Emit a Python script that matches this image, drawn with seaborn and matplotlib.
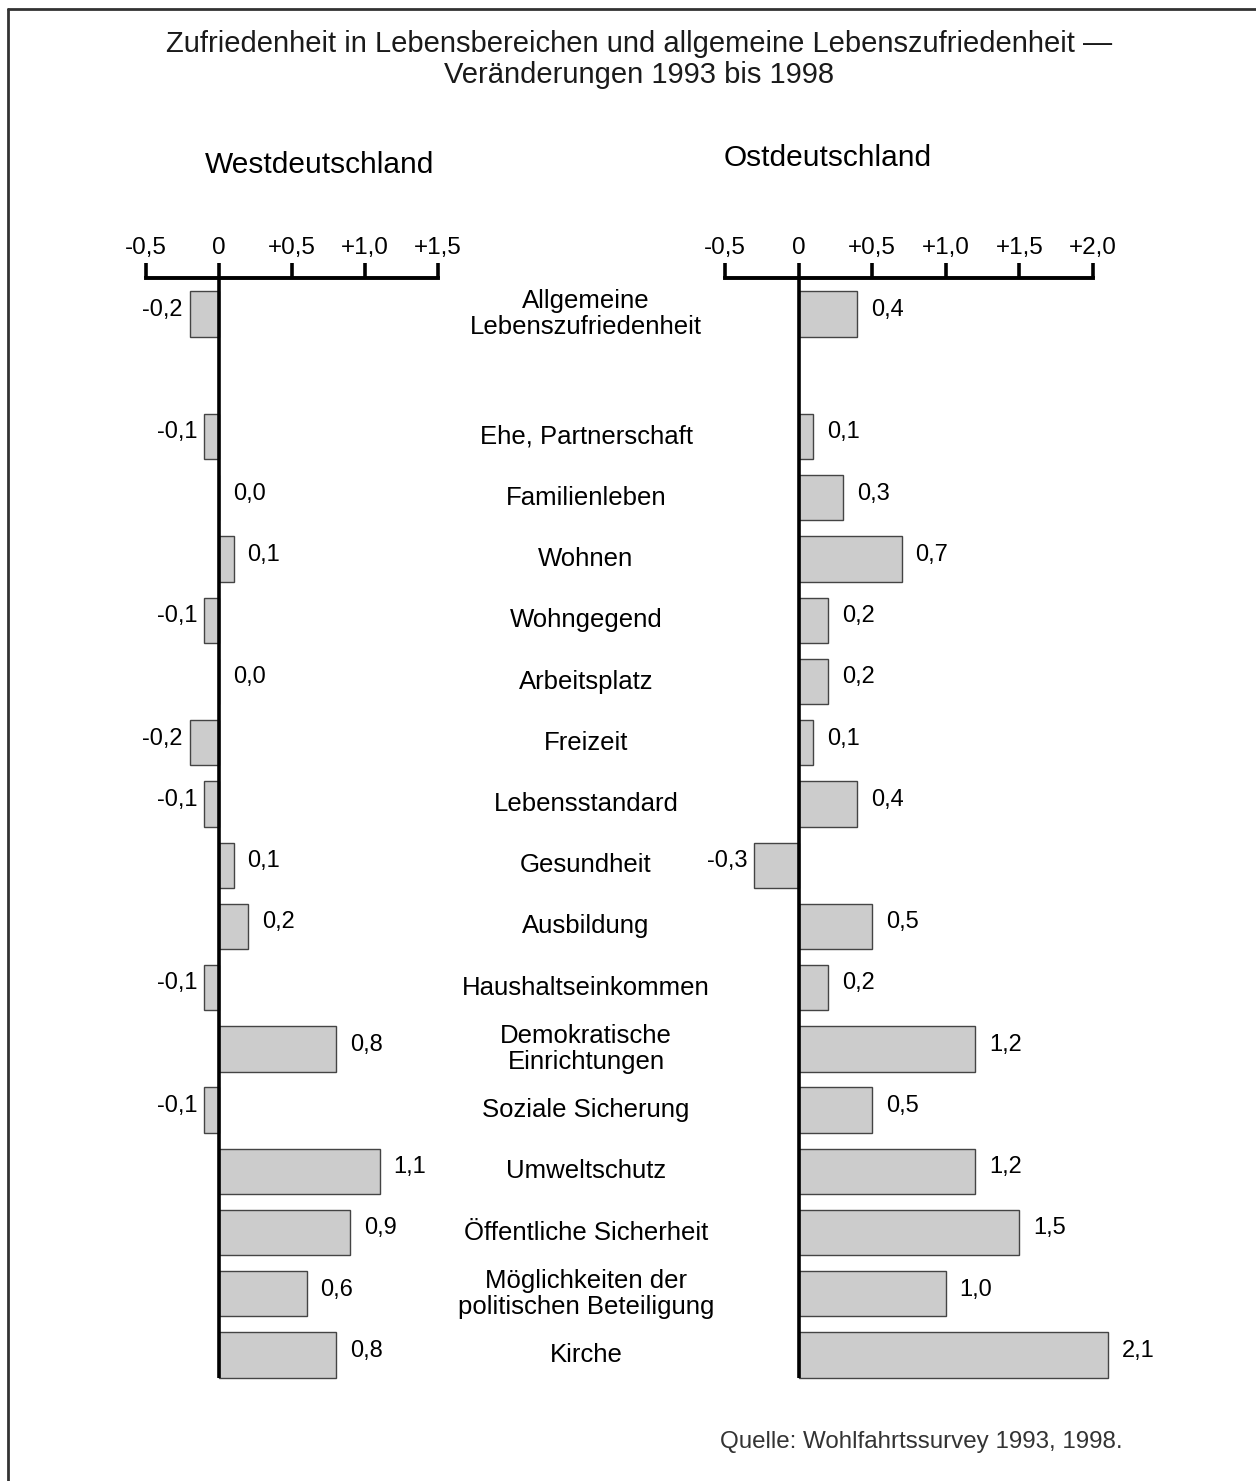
import matplotlib
matplotlib.use("Agg")
import matplotlib.pyplot as plt
import matplotlib.transforms as mtransforms
from matplotlib.lines import Line2D
import seaborn as sns
import pandas as pd

# ---------------- data ----------------
categories = [
    "Allgemeine\nLebenszufriedenheit",
    "Ehe, Partnerschaft",
    "Familienleben",
    "Wohnen",
    "Wohngegend",
    "Arbeitsplatz",
    "Freizeit",
    "Lebensstandard",
    "Gesundheit",
    "Ausbildung",
    "Haushaltseinkommen",
    "Demokratische\nEinrichtungen",
    "Soziale Sicherung",
    "Umweltschutz",
    "Öffentliche Sicherheit",
    "Möglichkeiten der\npolitischen Beteiligung",
    "Kirche",
]
west_values = [-0.2, -0.1, 0.0, 0.1, -0.1, 0.0, -0.2, -0.1, 0.1, 0.2, -0.1, 0.8, -0.1, 1.1, 0.9, 0.6, 0.8]
east_values = [0.4, 0.1, 0.3, 0.7, 0.2, 0.2, 0.1, 0.4, -0.3, 0.5, 0.2, 1.2, 0.5, 1.2, 1.5, 1.0, 2.1]
west_ticks = [-0.5, 0.0, 0.5, 1.0, 1.5]
west_ticklabels = ["-0,5", "0", "+0,5", "+1,0", "+1,5"]
east_ticks = [-0.5, 0.0, 0.5, 1.0, 1.5, 2.0]
east_ticklabels = ["-0,5", "0", "+0,5", "+1,0", "+1,5", "+2,0"]
title_lines = ["Zufriedenheit in Lebensbereichen und allgemeine Lebenszufriedenheit —",
               "Veränderungen 1993 bis 1998"]
panel_titles = ["Westdeutschland", "Ostdeutschland"]
source_text = "Quelle: Wohlfahrtssurvey 1993, 1998."

# ---------------- style ----------------
sns.set_style("white")
plt.rcParams["font.family"] = ["Liberation Sans", "DejaVu Sans"]
plt.rcParams["text.color"] = "black"

W, H = 1256, 1481
fig = plt.figure(figsize=(W / 100, H / 100), dpi=100)

gap_label = " "
order = [categories[0], gap_label] + categories[1:]

df_w = pd.DataFrame({"cat": categories, "val": west_values})
df_e = pd.DataFrame({"cat": categories, "val": east_values})

top_px, bot_px = 278, 1378
ax_bottom = 1 - bot_px / H
ax_height = (bot_px - top_px) / H

axW = fig.add_axes([146 / W, ax_bottom, (438 - 146) / W, ax_height])
axE = fig.add_axes([725 / W, ax_bottom, (1093 - 725) / W, ax_height])


def fmt(v):
    return f"{v:.1f}".replace(".", ",")


def draw_panel(ax, df, xlim, ticks, ticklabels):
    sns.barplot(data=df, x="val", y="cat", order=order, orient="h", ax=ax,
                color="#cccccc", saturation=1, width=0.74,
                edgecolor="#444444", linewidth=1.0, errorbar=None, zorder=2)
    for p in ax.patches:
        p.set_clip_on(False)
    ax.set_xlim(*xlim)
    ax.set_ylim(len(order) - 1 + 0.375, -0.59)
    ax.set_xlabel("")
    ax.set_ylabel("")
    ax.set_yticks([])
    ax.xaxis.tick_top()
    ax.set_xticks(ticks)
    ax.set_xticklabels(ticklabels, fontsize=17.5, color="black")
    ax.tick_params(axis="x", direction="out", length=11, width=2.6, pad=3, colors="black")
    for s in ["left", "right", "bottom"]:
        ax.spines[s].set_visible(False)
    ax.spines["top"].set_linewidth(2.8)
    ax.spines["top"].set_color("black")
    ax.axvline(0, color="black", lw=2.6, zorder=5)
    ax.set_facecolor("none")
    for cat, v in zip(df["cat"], df["val"]):
        y = order.index(cat)
        if v < 0:
            ax.annotate(fmt(v), xy=(v, y), xytext=(-5, 3), textcoords="offset points",
                        ha="right", va="center", fontsize=17, color="black",
                        annotation_clip=False)
        else:
            ax.annotate(fmt(v), xy=(v, y), xytext=(10, 3), textcoords="offset points",
                        ha="left", va="center", fontsize=17, color="black",
                        annotation_clip=False)


draw_panel(axW, df_w, (-0.5, 1.5), west_ticks, west_ticklabels)
draw_panel(axE, df_e, (-0.5, 2.0), east_ticks, east_ticklabels)

# category labels in the middle
trans = mtransforms.blended_transform_factory(fig.transFigure, axW.transData)
for cat in categories:
    y = order.index(cat)
    axW.text(586 / W, y, cat, transform=trans, ha="center", va="center",
             fontsize=18.5, linespacing=1.08, color="black", clip_on=False)

# titles
fig.text(639 / W, 1 - 44 / H, title_lines[0], ha="center", va="center",
         fontsize=21, color="#1a1a1a")
fig.text(639 / W, 1 - 75 / H, title_lines[1], ha="center", va="center",
         fontsize=21, color="#1a1a1a")
fig.text(320 / W, 1 - 165 / H, panel_titles[0], ha="center", va="center",
         fontsize=21.5, color="black")
fig.text(828 / W, 1 - 158 / H, panel_titles[1], ha="center", va="center",
         fontsize=21.5, color="black")
fig.text(1122 / W, 1 - 1442 / H, source_text, ha="right", va="center",
         fontsize=17.4, color="#333333")

# frame (top and left lines)
fx, fy = 8 / W, 1 - 9 / H
fig.add_artist(Line2D([fx, fx], [0, fy], transform=fig.transFigure, color="#333333", lw=2))
fig.add_artist(Line2D([fx, 1], [fy, fy], transform=fig.transFigure, color="#333333", lw=2))

fig.savefig("out.png", dpi=100)
